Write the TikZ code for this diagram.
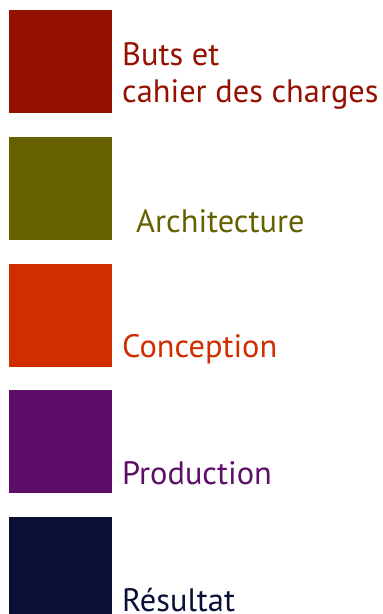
\documentclass[tikz,border=0pt]{standalone}
\usepackage{fontspec}
\setmainfont{PT Sans}
\usepackage{tikz}
\definecolor{butsred}{HTML}{941100}
\definecolor{archolive}{HTML}{666100}
\definecolor{concorange}{HTML}{D12E00}
\definecolor{prodpurple}{HTML}{5E0E68}
\definecolor{resnavy}{HTML}{0A0F38}
\tikzset{
  block/.style={fill=#1, draw=none, minimum size=103pt, inner sep=0pt, anchor=north west},
  label/.style={text=#1, anchor=base west, inner sep=0pt, font=\fontsize{32.4}{37}\selectfont}
}

\begin{document}
\begin{tikzpicture}[x=1pt,y=-1pt]
\useasboundingbox (0,0) rectangle (383,614);
\node[block=butsred] (buts) at (9,10) {};
\node[block=archolive] (arch) at (9,137) {};
\node[block=concorange] (conc) at (9,264) {};
\node[block=prodpurple] (prod) at (9,390) {};
\node[block=resnavy] (res) at (9,517) {};
\node[label=butsred] (butst) at (122,65) {Buts et};
\node[label=butsred] (cahiert) at (122,102) {cahier des charges};
\node[label=archolive] (archt) at (136,232) {Architecture};
\node[label=concorange] (conct) at (122,357) {Conception};
\node[label=prodpurple] (prodt) at (122,484) {Production};
\node[label=resnavy] (rest) at (122,611) {Résultat};
\end{tikzpicture}
\end{document}
